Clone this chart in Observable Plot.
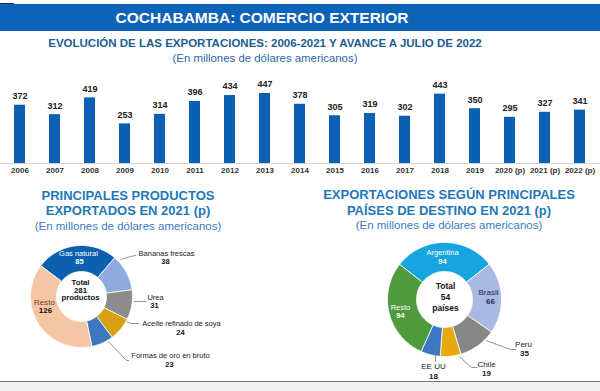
<!DOCTYPE html>
<html>
<head>
<meta charset="utf-8">
<script src="https://cdn.jsdelivr.net/npm/d3@7"></script>
<script src="https://cdn.jsdelivr.net/npm/@observablehq/plot@0.6"></script>
<style>
  html, body { margin: 0; padding: 0; background: #fff; }
  #root { position: relative; width: 600px; height: 391px; overflow: hidden; background: #fff;
          font-family: "Liberation Sans", Arial, sans-serif; }
  .abs { position: absolute; white-space: nowrap; text-align: center; }
  .h2 { font-weight: bold; font-size: 13px; color: #1f78b8; line-height: 16px; }
  .h3 { font-size: 11.5px; color: #3a7cbf; line-height: 14px; }
  svg { overflow: visible; }
</style>
</head>
<body>
<div id="root">
  <div class="abs" style="top:3px;left:0;width:14px;height:3px;background:#1b2a55"></div>
  <div class="abs" style="top:4px;left:0;width:600px;height:27px;background:#0d63b7"></div>
  <div class="abs" style="top:4px;left:0;width:524px;height:27px;line-height:28px;color:#fff;font-weight:bold;font-size:15.5px;">COCHABAMBA: COMERCIO EXTERIOR</div>
  <div class="abs" style="top:36px;left:0;width:530px;line-height:14px;color:#205d92;font-weight:bold;font-size:11.5px;">EVOLUCIÓN DE LAS EXPORTACIONES: 2006-2021 Y AVANCE A JULIO DE 2022</div>
  <div class="abs" style="top:51px;left:0;width:530px;line-height:14px;color:#2a68a8;font-size:11.4px;">(En millones de dólares americanos)</div>
  <div id="bars" class="abs" style="top:63px;left:-2px;"></div>

  <div class="abs h2" style="top:188px;left:0;width:256px;">PRINCIPALES PRODUCTOS</div>
  <div class="abs h2" style="top:203px;left:0;width:256px;">EXPORTADOS EN 2021 (p)</div>
  <div class="abs h3" style="top:219px;left:0;width:256px;">(En millones de dólares americanos)</div>

  <div class="abs h2" style="top:187px;left:300px;width:298px;">EXPORTACIONES SEGÚN PRINCIPALES</div>
  <div class="abs h2" style="top:203px;left:300px;width:298px;">PAÍSES DE DESTINO EN 2021 (p)</div>
  <div class="abs h3" style="top:218px;left:300px;width:298px;">(En millones de dólares americanos)</div>

  <div id="donut1" class="abs" style="top:232px;left:0;"></div>
  <div id="donut2" class="abs" style="top:232px;left:300px;"></div>

  <div class="abs" style="top:381px;left:0;width:600px;height:1px;background:#777"></div>
  <div class="abs" style="top:382px;left:0;width:600px;height:9px;background:#f1f1f1"></div>
</div>
<script>
// ---------- DATA ----------
const anios = ["2006","2007","2008","2009","2010","2011","2012","2013","2014","2015","2016","2017","2018","2019","2020 (p)","2021 (p)","2022 (p)"];
const exportaciones = [372,312,419,253,314,396,434,447,378,305,319,302,443,350,295,327,341];

const productos = ["Gas natural","Bananas frescas","Urea","Aceite refinado de soya","Formas de oro en bruto","Resto"];
const productosValores = [85,38,31,24,23,126];
const productosTotal = "Total\n281\nproductos";

const paises = ["Argentina","Brasil","Perú","Chile","EE UU","Resto"];
const paisesValores = [94,66,35,19,18,94];
const paisesTotal = "Total\n54\npaíses";

// ---------- STYLE / LAYOUT ----------
const FONT = "Liberation Sans, Arial, sans-serif";
const productosColores = ["#0d5fb0","#8fabdf","#8c8c8c","#d9a012","#3f78bf","#f5c6a6"];
const paisesColores = ["#17a5e0","#aab9e1","#878787","#e6a90f","#3f78c2","#4f9a3c"];

// ---------- BAR CHART ----------
const barData = anios.map((a, i) => ({anio: a, valor: exportaciones[i]}));
document.getElementById("bars").append(Plot.plot({
  width: 602, height: 120,
  marginTop: 30, marginBottom: 20, marginLeft: 0, marginRight: 0,
  style: {fontFamily: FONT, background: "transparent"},
  x: {domain: anios, paddingInner: 0.69, paddingOuter: 0.345, label: null},
  y: {domain: [0, 447], axis: null},
  marks: [
    Plot.ruleY([0], {stroke: "#d4d4d4"}),
    Plot.barY(barData, {x: "anio", y: "valor", fill: "#0c60b4"}),
    Plot.text(barData, {x: "anio", y: "valor", text: d => String(d.valor), dy: -9,
      fontSize: 9, fontWeight: "bold", fill: "#222"}),
    Plot.axisX({tickSize: 0, tickPadding: 4, fontSize: 8, fontWeight: "bold", fill: "#333", label: null})
  ]
}));

// ---------- DONUTS ----------
const rad = d => d * Math.PI / 180;
function ring(names, values, startDeg, g) {
  const arcs = d3.pie().sort(null)
    .startAngle(rad(startDeg)).endAngle(rad(startDeg) + 2 * Math.PI)(values);
  const rows = [];
  arcs.forEach((a, i) => {
    const n = Math.max(8, Math.ceil((a.endAngle - a.startAngle) * 40));
    const pts = [];
    for (let k = 0; k <= n; k++) {
      const t = a.startAngle + (a.endAngle - a.startAngle) * k / n;
      pts.push({name: names[i], x: g.cx + g.R * Math.sin(t), y: g.cy - g.R * Math.cos(t)});
    }
    for (let k = n; k >= 0; k--) {
      const t = a.startAngle + (a.endAngle - a.startAngle) * k / n;
      pts.push({name: names[i], x: g.cx + g.r * Math.sin(t), y: g.cy - g.r * Math.cos(t)});
    }
    pts.push({...pts[0]});
    rows.push(...pts);
  });
  return {rows, arcs};
}
function leaderRows(arcs, names, g, callouts) {
  const rows = [];
  callouts.forEach(c => {
    const a = arcs[c.i];
    const t = a.startAngle + (a.endAngle - a.startAngle) * c.frac;
    const rr = g.R + c.dr;
    rows.push({id: names[c.i], x: g.cx + rr * Math.sin(t), y: g.cy - rr * Math.cos(t)});
    c.path.forEach(p => rows.push({id: names[c.i], x: p[0], y: p[1]}));
  });
  return rows;
}

function donut(el, x0, names, values, colores, g, labels, callouts, center) {
  const {rows, arcs} = ring(names, values, g.start, g);
  const leaders = leaderRows(arcs, names, g, callouts);
  const nameRows = labels.map(l => ({...l, t: names[l.i]}));
  const valRows = labels.map(l => ({...l, t: String(values[l.i])}));
  el.append(Plot.plot({
    width: 300, height: 150, margin: 0,
    style: {fontFamily: FONT, background: "transparent"},
    x: {type: "linear", domain: [x0, x0 + 300], range: [0, 300], axis: null},
    y: {type: "linear", domain: [232, 382], range: [0, 150], axis: null},
    color: {domain: names, range: colores},
    marks: [
      Plot.line(rows, {x: "x", y: "y", z: "name", fill: "name", stroke: "white", strokeWidth: 0.8}),
      Plot.line(leaders, {x: "x", y: "y", z: "id", stroke: "#6b7a8c", strokeWidth: 0.8}),
      Plot.text(nameRows, {x: "nx", y: "ny", text: "t", fill: "nc", fontSize: "ns", fontWeight: "nw"}),
      Plot.text(valRows, {x: "vx", y: "vy", text: "t", fill: "vc", fontSize: "vs", fontWeight: "bold"}),
      Plot.text([center], {x: "x", y: "y", text: "t", fill: "#111", fontSize: center.s, fontWeight: "bold", lineHeight: center.lh})
    ]
  }));
}

// left donut layout
const g1 = {cx: 81, cy: 296, R: 51, r: 25, start: -53};
const lab1 = [
  {i: 0, nx: 78, ny: 253, vx: 79, vy: 261.5, nc: "#ffffff", vc: "#ffffff", ns: 7.5, vs: 7.5, nw: "normal"},
  {i: 1, nx: 166, ny: 253, vx: 165, vy: 261.5, nc: "#222", vc: "#111", ns: 7.5, vs: 7.5, nw: "normal"},
  {i: 2, nx: 155, ny: 297, vx: 154, vy: 305.5, nc: "#222", vc: "#111", ns: 7.5, vs: 7.5, nw: "normal"},
  {i: 3, nx: 181, ny: 323, vx: 180, vy: 332, nc: "#222", vc: "#111", ns: 7.5, vs: 7.5, nw: "normal"},
  {i: 4, nx: 170, ny: 355, vx: 169, vy: 364, nc: "#222", vc: "#111", ns: 7.5, vs: 7.5, nw: "normal"},
  {i: 5, nx: 44, ny: 302, vx: 45, vy: 309.5, nc: "#7a3b1f", vc: "#111", ns: 8, vs: 8, nw: "normal"}
];
const call1 = [
  {i: 1, frac: 0.15, dr: 3, path: [[130, 256], [135, 255]]},
  {i: 2, frac: 0.38, dr: 2, path: [[145, 301]]},
  {i: 3, frac: 0.1, dr: 1, path: [[130, 323], [138, 323]]},
  {i: 4, frac: 0.25, dr: 1, path: [[126, 360], [128, 360]]}
];
donut(document.getElementById("donut1"), 0, productos, productosValores, productosColores, g1, lab1, call1,
  {x: 80, y: 289.5, t: productosTotal, s: 7.8, lh: 1});

// right donut layout
const g2 = {cx: 444, cy: 299, R: 57, r: 28, start: -52};
const lab2 = [
  {i: 0, nx: 442, ny: 252, vx: 442, vy: 261, nc: "#ffffff", vc: "#ffffff", ns: 7.5, vs: 7.5, nw: "normal"},
  {i: 1, nx: 488, ny: 292, vx: 490, vy: 301, nc: "#1c2b5a", vc: "#1c2b5a", ns: 8, vs: 8, nw: "bold"},
  {i: 2, nx: 523, ny: 344, vx: 524, vy: 352.5, nc: "#222", vc: "#222", ns: 8, vs: 8, nw: "bold"},
  {i: 3, nx: 486, ny: 364, vx: 486, vy: 372.5, nc: "#222", vc: "#222", ns: 8, vs: 8, nw: "bold"},
  {i: 4, nx: 433, ny: 366, vx: 433, vy: 376, nc: "#222", vc: "#222", ns: 8, vs: 8, nw: "bold"},
  {i: 5, nx: 400, ny: 307, vx: 400, vy: 315.5, nc: "#ffffff", vc: "#ffffff", ns: 7.5, vs: 7.5, nw: "normal"}
];
const call2 = [
  {i: 2, frac: 0.25, dr: 2, path: [[510, 349], [515, 349]]},
  {i: 3, frac: 0.1, dr: 2, path: [[471, 367], [476, 367]]},
  {i: 4, frac: 0.32, dr: -8, path: [[435, 361]]}
];
donut(document.getElementById("donut2"), 300, paises, paisesValores, paisesColores, g2, lab2, call2,
  {x: 445, y: 296, t: paisesTotal, s: 8.5, lh: 1.27});
</script>
</body>
</html>
